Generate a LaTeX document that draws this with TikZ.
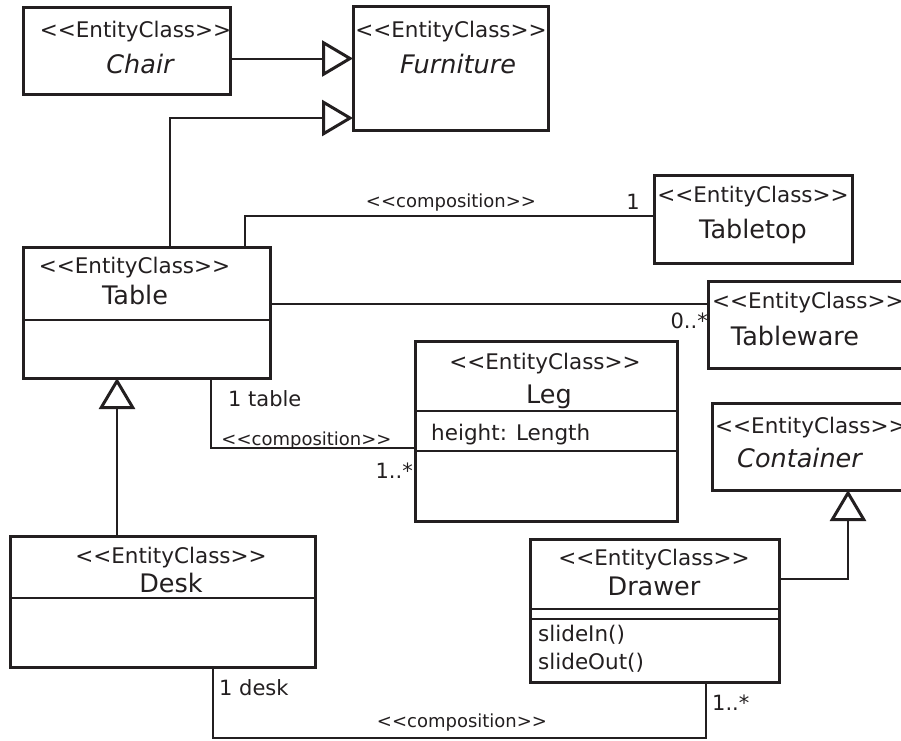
\documentclass[tikz,border=0pt]{standalone}
\usepackage{fontspec}
\newfontfamily\uml{DejaVu Sans}
\usepackage{tikz}
\usetikzlibrary{arrows.meta, positioning, calc}
\definecolor{ink}{HTML}{231F20}

\begin{document}
\begin{tikzpicture}[x=1pt, y=-1pt, ink,
		entity/.style={draw, line width=3pt, rectangle, anchor=north west, inner sep=0pt, outer sep=0pt},
		stereo/.style={font=\uml\fontsize{21.5}{24}\selectfont, anchor=base, inner sep=0pt},
		cname/.style={font=\uml\fontsize{25.5}{28}\selectfont, anchor=base, inner sep=0pt},
		iname/.style={font=\uml\itshape\fontsize{25.5}{28}\selectfont, anchor=base, inner sep=0pt},
		member/.style={font=\uml\fontsize{21.5}{24}\selectfont, anchor=base west, inner sep=0pt},
		mult/.style={font=\uml\fontsize{21}{24}\selectfont, anchor=base west, inner sep=0pt},
		assoc/.style={font=\uml\fontsize{18}{20}\selectfont, anchor=base, inner sep=0pt},
		conn/.style={draw, line width=2pt},
		divider/.style={line width=2pt},
		generalize/.style={conn, -{Triangle[open, length=31pt, width=36pt, line width=3pt]}}]
	\path[use as bounding box, fill=white] (0,0) rectangle (901,740);
	
	% class boxes
	\node[entity, minimum width=207pt, minimum height=87pt] (chair) at (23,7) {};
	\node[entity, minimum width=195pt, minimum height=124pt] (furniture) at (353,6) {};
	\node[entity, minimum width=247pt, minimum height=131pt] (table) at (23,247) {};
	\node[entity, minimum width=198pt, minimum height=88pt] (tabletop) at (654,175) {};
	\node[entity, minimum width=210pt, minimum height=87pt] (tableware) at (708,281) {};
	\node[entity, minimum width=262pt, minimum height=180pt] (leg) at (415,341) {};
	\node[entity, minimum width=210pt, minimum height=87pt] (container) at (712,403) {};
	\node[entity, minimum width=305pt, minimum height=131pt] (desk) at (10,536) {};
	\node[entity, minimum width=249pt, minimum height=143pt] (drawer) at (530,539) {};
	
	\draw[divider] (table.west |- 0,320) -- (table.east |- 0,320);
	\draw[divider] (leg.west |- 0,411) -- (leg.east |- 0,411);
	\draw[divider] (leg.west |- 0,451) -- (leg.east |- 0,451);
	\draw[divider] (desk.west |- 0,598) -- (desk.east |- 0,598);
	\draw[divider] (drawer.west |- 0,609) -- (drawer.east |- 0,609);
	\draw[divider] (drawer.west |- 0,619) -- (drawer.east |- 0,619);
	
	% class texts
	\node[stereo] (chair_st) at (135.5,37) {<<EntityClass>>};
	\node[iname] (chair_nm) at (140,73) {Chair};
	\node[stereo] (furniture_st) at (451,37) {<<EntityClass>>};
	\node[iname] (furniture_nm) at (458,73) {Furniture};
	\node[stereo] (table_st) at (134.5,273) {<<EntityClass>>};
	\node[cname] (table_nm) at (135,304) {Table};
	\node[stereo] (tabletop_st) at (753,202) {<<EntityClass>>};
	\node[cname] (tabletop_nm) at (753,238) {Tabletop};
	\node[stereo, anchor=base west] (tableware_st) at (712,308) {<<EntityClass>>};
	\node[cname] (tableware_nm) at (795,345) {Tableware};
	\node[stereo] (leg_st) at (545,369) {<<EntityClass>>};
	\node[cname] (leg_nm) at (549,403) {Leg};
	\node[member] (leg_at) at (431,440) {height: Length};
	\node[stereo, anchor=base west] (container_st) at (715,433) {<<EntityClass>>};
	\node[iname, anchor=base west] (container_nm) at (737,467) {Container};
	\node[stereo] (desk_st) at (171,563) {<<EntityClass>>};
	\node[cname] (desk_nm) at (171,592) {Desk};
	\node[stereo] (drawer_st) at (654,565) {<<EntityClass>>};
	\node[cname] (drawer_nm) at (654,595) {Drawer};
	\node[member] (drawer_in) at (538,641) {slideIn()};
	\node[member] (drawer_out) at (538,669) {slideOut()};
	
	% connectors
	\coordinate (chair_out) at ([yshift=-8pt]chair.east);
	\draw[generalize] (chair_out) -- (chair_out -| furniture.west);
	\draw[generalize] ([xshift=23.5pt]table.north) |- ([yshift=12pt]furniture.south west);
	\draw[conn] ([xshift=98.5pt]table.north) |- ([yshift=3.5pt]tabletop.west);
	\coordinate (tableware_in) at ([yshift=20.5pt]tableware.west);
	\draw[conn] (table.east |- tableware_in) -- (tableware_in);
	\draw[conn] ([xshift=64.5pt]table.south) |- ([yshift=-17pt]leg.west);
	\draw[generalize] ([xshift=-45.5pt]desk.north) -- ([xshift=-29.5pt]table.south);
	\draw[generalize] ([yshift=31.5pt]drawer.east) -| ([xshift=31pt]container.south);
	\draw[conn] ([xshift=50pt]desk.south) -- ++(0,71) -| ([xshift=51.5pt]drawer.south);
	
	% association labels
	\node[assoc] (tabletop_cp) at (451,207) {<<composition>>};
	\node[mult, anchor=base east] (tabletop_m) at (640,209) {1};
	\node[mult, anchor=base east] (tableware_m) at (708,328) {0..*};
	\node[mult] (table_m) at (228,406) {1 table};
	\node[assoc] (leg_cp) at (306.5,445) {<<composition>>};
	\node[mult, anchor=base east] (leg_m) at (413,478) {1..*};
	\node[mult] (desk_m) at (219,695) {1 desk};
	\node[assoc] (drawer_cp) at (462,727) {<<composition>>};
	\node[mult] (drawer_m) at (712,710) {1..*};
\end{tikzpicture}
\end{document}
